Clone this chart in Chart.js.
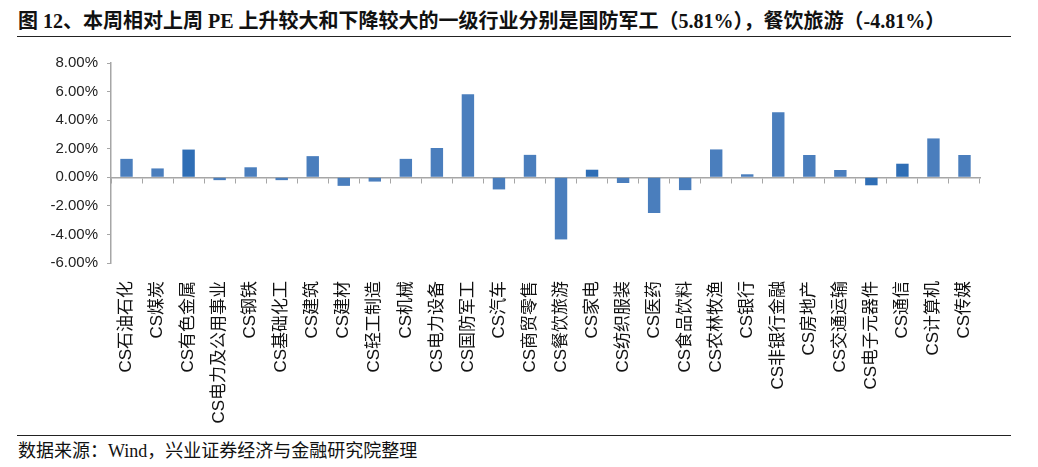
<!DOCTYPE html>
<html>
<head>
<meta charset="utf-8">
<script src="https://cdn.jsdelivr.net/npm/chart.js@4.4.1/dist/chart.umd.min.js"></script>
<style>
    body {
        margin: 0;
        width: 1038px;
        height: 467px;
        background: #fff;
        position: relative;
        overflow: hidden;
        font-family: "Liberation Serif", "Noto Sans CJK SC", serif;
    }
    .title {
        position: absolute;
        left: 18px;
        top: 8px;
        font-size: 20px;
        font-weight: bold;
        color: #111;
        white-space: nowrap;
        line-height: 26px;
    }
    .rule {
        position: absolute;
        left: 17px;
        width: 994px;
        height: 0;
        border-top: 1.5px solid #222;
    }
    .source {
        position: absolute;
        left: 18px;
        top: 436px;
        font-size: 18px;
        color: #111;
        white-space: nowrap;
    }
    .wrap {
        position: absolute;
        left: 0;
        top: 45px;
        width: 1038px;
        height: 385px;
    }
</style>
</head>
<body>

<div class="title">图 12、本周相对上周 PE 上升较大和下降较大的一级行业分别是国防军工（5.81%），餐饮旅游（-4.81%）</div>
<div class="rule" style="top:36px"></div>

<div class="wrap"><canvas id="peChart" width="1038" height="385"></canvas></div>

<div class="rule" style="top:435px"></div>
<div class="source">数据来源：Wind，兴业证券经济与金融研究院整理</div>

<script>
/* ── DADOS ── */
const industries = [
    'CS石油石化', 'CS煤炭', 'CS有色金属', 'CS电力及公用事业', 'CS钢铁', 'CS基础化工',
    'CS建筑', 'CS建材', 'CS轻工制造', 'CS机械', 'CS电力设备', 'CS国防军工',
    'CS汽车', 'CS商贸零售', 'CS餐饮旅游', 'CS家电', 'CS纺织服装', 'CS医药',
    'CS食品饮料', 'CS农林牧渔', 'CS银行', 'CS非银行金融', 'CS房地产', 'CS交通运输',
    'CS电子元器件', 'CS通信', 'CS计算机', 'CS传媒'
];

const peChange = [
    1.29, 0.62, 1.94, -0.2, 0.7, -0.2,
    1.48, -0.6, -0.3, 1.29, 2.05, 5.81,
    -0.85, 1.57, -4.35, 0.53, -0.4, -2.5,
    -0.9, 1.95, 0.21, 4.55, 1.56, 0.51,
    -0.56, 0.95, 2.72, 1.56
];

const yTicks = { min: -6, max: 8, step: 2 };

/* ── ESTILO ── */
const darkBars = ['CS有色金属', 'CS家电', 'CS电子元器件', 'CS通信'];
const barColors = industries.map(n => darkBars.includes(n) ? '#2F6EB5' : '#4A7EBD');
const axisGray = '#A6A6A6';

/* ── GRÁFICO ── */
const ctx = document.getElementById('peChart');

new Chart(ctx, {
    type: 'bar',
    data: {
        labels: industries,
        datasets: [{
            data: peChange,
            backgroundColor: barColors,
            barPercentage: 0.4,
            categoryPercentage: 1
        }]
    },
    options: {
        responsive: false,
        animation: false,
        layout: {
            padding: { left: 38, right: 58, top: 16, bottom: 0 }
        },
        plugins: {
            legend: { display: false },
            tooltip: { enabled: false }
        },
        scales: {
            x: {
                position: { y: 0 },
                grid: {
                    display: true,
                    drawOnChartArea: false,
                    drawTicks: true,
                    tickLength: 5,
                    color: axisGray
                },
                border: { color: axisGray, width: 1.5 },
                ticks: { display: false }
            },
            x2: {
                type: 'category',
                labels: industries,
                position: 'bottom',
                grid: { display: false },
                border: { display: false },
                ticks: {
                    minRotation: 90,
                    maxRotation: 90,
                    autoSkip: false,
                    padding: 10,
                    color: '#111',
                    font: { family: '"Liberation Sans", "Noto Sans CJK SC"', size: 17 }
                },
                afterFit: s => { s.height = 167; }
            },
            y: {
                min: yTicks.min,
                max: yTicks.max,
                grid: {
                    display: true,
                    drawOnChartArea: false,
                    tickLength: 4,
                    color: axisGray
                },
                border: { color: axisGray, width: 1.5 },
                ticks: {
                    stepSize: yTicks.step,
                    padding: 9,
                    color: '#222',
                    font: { family: '"Liberation Sans", Arial', size: 15 },
                    callback: v => v.toFixed(2) + '%'
                },
                afterFit: s => { s.width = 73; }
            }
        }
    }
});
</script>
</body>
</html>
